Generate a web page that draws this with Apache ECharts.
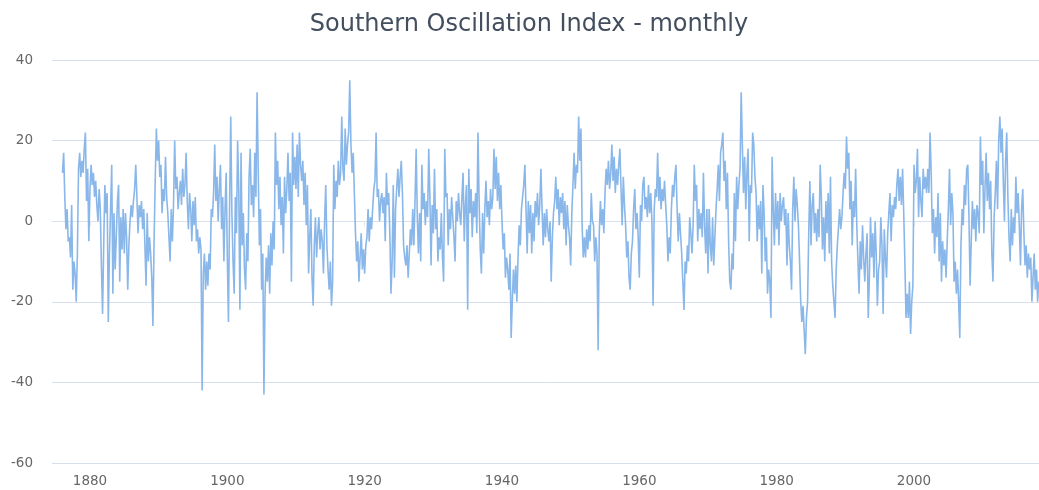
<!DOCTYPE html>
<html>
<head>
<meta charset="utf-8">
<script src="https://cdn.jsdelivr.net/npm/echarts@6/dist/echarts.min.js"></script>
<style>
html,body{margin:0;padding:0;background:#fff}
#soi{width:1039px;height:490px}
</style>
</head>
<body>
<div id="soi"></div>
<script>
// values, 6 per year (every 2 months)
var y1870s = [
	12,17,6,-2,3,-5,  -4,-9,4,-17,-10,-13,  -20,-8,13,17,11,15,  12,18,22,5,13,-5
];
var y1880s = [
	8,14,9,12,6,10,  4,0,8,3,-11,-23,  -6,9,2,7,-25,-8,  3,14,-18,2,-12,-4,  5,9,-15,1,-7,3,
	-8,2,-4,-17,-6,0,  4,1,5,8,14,6,  -3,4,1,5,-2,3,  -6,-16,2,-10,-4,-8,  -14,-26,-5,10,23,15
];
var y1890s = [
	20,11,14,2,8,5,  16,6,2,-4,-10,3,  -5,4,20,8,11,3,  7,10,4,13,6,9,  17,5,-2,7,3,-5,
	5,-1,6,-5,-2,-8,  -4,-7,-42,-13,-8,-17,  -10,-16,-8,-12,3,1,  7,19,5,11,0,8,  14,-2,6,-10,3,12
];
var y1900s = [
	-9,-25,4,26,2,-10,  -18,6,-3,20,8,-22,  17,-6,2,-12,-17,-3,  -10,11,18,4,9,1,  17,6,32,13,-6,3,
	-17,-8,-43,-18,-9,-15,  -6,-18,-3,-11,0,-7,  22,9,15,3,11,-1,  6,-8,11,2,8,17,  5,12,-15,22,9,16
];
var y1910s = [
	8,19,6,22,14,10,  15,4,12,-1,9,-13,  -4,3,-14,-21,-6,1,  -9,-3,1,-7,-2,-5,  -13,0,9,-6,-12,-17,
	-10,-21,-15,14,3,10,  6,15,9,12,26,13,  10,23,14,19,22,35,  19,12,17,7,-3,-10,  -5,-15,-9,-3,-12,-7
];
var y1920s = [
	-13,-6,-4,3,-5,1,  -2,3,8,10,22,6,  8,0,5,7,2,6,  -5,12,4,7,-3,-18,  -10,9,-14,3,8,13,
	6,11,15,7,-6,-9,  -11,-6,-14,-8,-2,-6,  3,-6,5,18,1,-8,  2,-10,14,3,7,-1,  5,1,18,6,-11,4
];
var y1930s = [
	-3,13,-2,3,-10,-4,  -7,2,-9,-15,18,6,  7,-6,3,-2,6,1,  -4,-10,5,0,7,2,  -1,6,12,-5,4,9,
	-22,13,2,8,-4,5,  1,7,-3,22,5,-7,  -13,2,-8,3,10,1,  5,-1,8,3,6,18,  8,16,5,12,3,9
];
var y1940s = [
	0,-7,-3,-14,-9,-12,  -17,-8,-29,-20,-12,-18,  -11,-20,-9,-1,-6,3,  6,9,14,3,-8,5,  -3,4,-8,2,-5,5,
	1,7,-1,4,13,3,  -6,2,-4,3,-2,-5,  0,-15,-4,2,5,11,  3,8,-1,6,2,7,  -2,5,-6,4,-1,-4
];
var y1950s = [
	-11,2,9,17,8,14,  12,26,15,23,-1,-9,  -4,-9,-2,-7,-1,-5,  7,0,-1,-10,-4,-8,  -32,-3,5,-1,3,-3,
	7,13,9,15,8,12,  19,10,16,7,13,9,  14,18,8,-1,11,4,  -1,-9,-5,-14,-17,-8,  -5,3,8,-2,2,-4
];
var y1960s = [
	-14,4,0,9,11,3,  6,1,9,2,7,0,  -21,3,8,6,17,5,  11,3,8,5,10,4,  -1,-10,-4,-8,3,9,
	6,11,14,3,-5,2,  -3,-8,-15,-22,-10,-13,  -6,-10,1,-3,-8,-1,  14,5,9,-5,3,-2,  2,-4,12,-1,-8,3
];
var y1970s = [
	-13,3,-6,-10,1,-11,  -4,3,8,14,5,17,  19,22,10,15,3,12,  -5,-15,-17,-8,-12,7,  -5,11,3,9,13,32,
	19,7,16,3,12,18,  -5,9,7,22,19,11,  7,-5,4,-2,5,-13,  9,2,-10,-4,-18,-12,  -15,-24,16,3,-6,7
];
var y1980s = [
	-2,5,-6,7,0,4,  6,-1,3,-11,2,-6,  -10,-17,3,11,0,8,  4,-1,-10,-20,-25,-21,  -27,-33,-24,-20,-3,10,
	-6,4,7,-3,2,-5,  3,-4,14,6,-7,1,  -10,5,-3,7,-8,11,  -10,-16,-20,-24,-12,-6,  -6,3,-2,1,7,12
];
var y1990s = [
	8,21,13,17,3,10,  -6,5,1,13,-1,-10,  -18,-5,-12,-1,-9,-15,  -8,-3,-24,-14,1,-9,  -3,-14,0,-8,-21,-12,
	-10,1,-6,-23,-2,-9,  -14,-3,2,7,-5,4,  1,6,3,9,13,5,  11,4,13,2,-10,-24,  -18,-24,-15,-28,-20,-16
];
var y2000s = [
	14,7,10,18,1,11,  5,1,13,8,11,7,  13,7,22,12,-3,3,  -8,1,-4,7,-10,2,  -15,-5,-11,-7,-14,-5,
	3,13,-1,7,2,-15,  -10,-18,-12,-20,-29,-6,  3,-1,9,4,13,14,  1,-16,-5,5,-2,3,  -5,4,2,-3,21,9
];
var y2010s = [
	15,-3,8,17,5,12,  3,10,-8,-15,1,7,  15,3,20,26,17,23,  10,0,15,22,6,-4,  -10,3,-6,1,-3,11,
	2,7,-1,-11,3,8,  -3,-11,-6,-14,-8,-12,  -9,-20,-14,-8,-17,-12,  -20,-15
];
var startYears = [1876,1880,1890,1900,1910,1920,1930,1940,1950,1960,1970,1980,1990,2000,2010];
var blocks = [y1870s,y1880s,y1890s,y1900s,y1910s,y1920s,y1930s,y1940s,y1950s,y1960s,y1970s,y1980s,y1990s,y2000s,y2010s];
var yearLabels = [1880,1900,1920,1940,1960,1980,2000];

var seriesData = [];
for (var b = 0; b < blocks.length; b++) {
	for (var i = 0; i < blocks[b].length; i++) {
		seriesData.push([startYears[b] + i / 6, blocks[b][i]]);
	}
}

var chart = echarts.init(document.getElementById('soi'));
var option = {
	backgroundColor: '#ffffff',
	animation: false,
	title: {
		text: 'Southern Oscillation Index - monthly',
		left: 524,
		top: 8,
		textAlign: 'center',
		textStyle: {
			fontFamily: 'DejaVu Sans',
			fontSize: 24,
			fontWeight: 'normal',
			color: '#434e5e'
		}
	},
	grid: {left: 52, right: 0, top: 60, bottom: 27},
	xAxis: {
		type: 'value',
		min: 1874.47,
		max: 2018.2,
		axisLine: {show: true, lineStyle: {color: '#d9e1ec'}},
		axisTick: {show: true, customValues: yearLabels, length: 5, lineStyle: {color: '#e3e8ef'}},
		splitLine: {show: false},
		axisLabel: {
			customValues: yearLabels,
			formatter: function (v) { return String(v); },
			margin: 11,
			fontFamily: 'DejaVu Sans',
			fontSize: 13.5,
			color: '#666666'
		}
	},
	yAxis: {
		type: 'value',
		min: -60,
		max: 40,
		interval: 20,
		axisLine: {show: false},
		axisTick: {show: false},
		splitLine: {lineStyle: {color: '#d6dfeb', width: 1}},
		axisLabel: {
			margin: 19,
			fontFamily: 'DejaVu Sans',
			fontSize: 13.5,
			color: '#666666'
		}
	},
	series: [{
		type: 'line',
		data: seriesData,
		showSymbol: false,
		symbol: 'none',
		sampling: false,
		lineStyle: {color: '#8ab7e9', width: 1.6}
	}]
};
chart.setOption(option);
</script>
</body>
</html>
